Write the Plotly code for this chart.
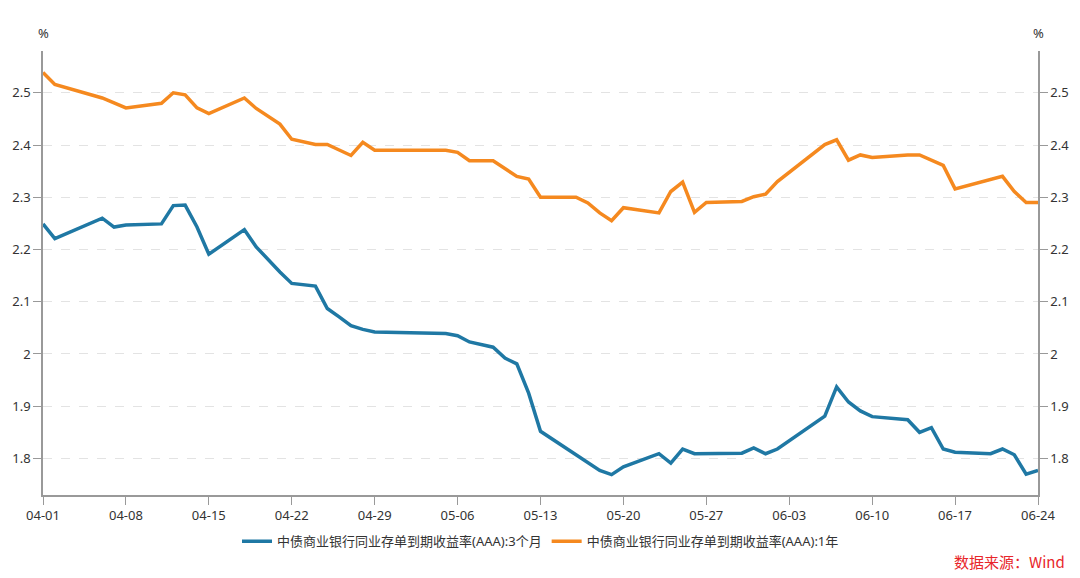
import plotly.graph_objects as go

# 中债商业银行同业存单到期收益率(AAA)

datas_3m = ["04-01", "04-02", "04-06", "04-07", "04-08", "04-11", "04-12", "04-13", "04-14", "04-15",
            "04-18", "04-19", "04-21", "04-22", "04-24", "04-25", "04-26", "04-27", "04-28", "04-29",
            "05-05", "05-06", "05-07", "05-09", "05-10", "05-11", "05-12", "05-13", "05-18", "05-19",
            "05-20", "05-23", "05-24", "05-25", "05-26", "05-30", "05-31", "06-01", "06-02", "06-06",
            "06-07", "06-08", "06-09", "06-10", "06-13", "06-14", "06-15", "06-16", "06-17", "06-20",
            "06-21", "06-22", "06-23", "06-24"]
taxa_3m = [2.249, 2.221, 2.260, 2.243, 2.247, 2.249, 2.284, 2.285, 2.243, 2.191,
           2.238, 2.205, 2.157, 2.135, 2.130, 2.087, 2.071, 2.054, 2.047, 2.042,
           2.039, 2.035, 2.023, 2.013, 1.992, 1.981, 1.925, 1.852, 1.777, 1.769,
           1.784, 1.809, 1.791, 1.818, 1.809, 1.810, 1.820, 1.809, 1.818, 1.881,
           1.937, 1.908, 1.891, 1.880, 1.874, 1.850, 1.859, 1.818, 1.812, 1.809,
           1.818, 1.807, 1.770, 1.777]

datas_1a = ["04-01", "04-02", "04-06", "04-08", "04-11", "04-12", "04-13", "04-14", "04-15", "04-18",
            "04-19", "04-21", "04-22", "04-24", "04-25", "04-27", "04-28", "04-29", "05-05", "05-06",
            "05-07", "05-09", "05-11", "05-12", "05-13", "05-16", "05-17", "05-18", "05-19", "05-20",
            "05-23", "05-24", "05-25", "05-26", "05-27", "05-30", "05-31", "06-01", "06-02", "06-06",
            "06-07", "06-08", "06-09", "06-10", "06-13", "06-14", "06-16", "06-17", "06-21", "06-22",
            "06-23", "06-24"]
taxa_1a = [2.539, 2.516, 2.490, 2.471, 2.480, 2.500, 2.496, 2.471, 2.460, 2.490,
           2.470, 2.440, 2.411, 2.401, 2.401, 2.380, 2.405, 2.390, 2.390, 2.386,
           2.370, 2.370, 2.340, 2.335, 2.300, 2.300, 2.289, 2.270, 2.255, 2.280,
           2.270, 2.311, 2.329, 2.271, 2.290, 2.292, 2.301, 2.306, 2.330, 2.401,
           2.410, 2.371, 2.381, 2.376, 2.381, 2.381, 2.361, 2.316, 2.340, 2.311,
           2.290, 2.290]

nomes = ["中债商业银行同业存单到期收益率(AAA):3个月", "中债商业银行同业存单到期收益率(AAA):1年"]
ano = "2024-"

fig = go.Figure()
fig.add_trace(go.Scatter(x=[ano + d for d in datas_3m], y=taxa_3m, name=nomes[0], mode="lines",
                         line=dict(color="#1f78a4", width=3.5)))
fig.add_trace(go.Scatter(x=[ano + d for d in datas_1a], y=taxa_1a, name=nomes[1], mode="lines",
                         line=dict(color="#f5891f", width=3.5), yaxis="y2"))

fonte = dict(family="Noto Sans, Noto Sans CJK SC", size=13, color="#333333")
eixo_y = dict(range=[1.73, 2.58], tickvals=[1.8, 1.9, 2.0, 2.1, 2.2, 2.3, 2.4, 2.5],
              ticktext=["1.8", "1.9", "2", "2.1", "2.2", "2.3", "2.4", "2.5"],
              showline=True, linecolor="#999999", linewidth=1.5, ticks="outside", ticklen=8,
              tickcolor="#999999", zeroline=False, tickfont=fonte)

fig.update_layout(
    width=1080, height=578,
    margin=dict(l=43, r=42, t=51, b=83),
    plot_bgcolor="white", paper_bgcolor="white",
    font=fonte,
    xaxis=dict(range=["2024-04-01", "2024-06-24"], tick0="2024-04-01", dtick=7 * 86400000,
               tickformat="%m-%d", showline=True, linecolor="#999999", linewidth=1.5,
               ticks="outside", ticklen=8, tickcolor="#999999", showgrid=False, tickfont=fonte),
    yaxis=dict(**eixo_y, showgrid=True, gridcolor="#e3e3e3", griddash="dash"),
    yaxis2=dict(**eixo_y, overlaying="y", side="right", showgrid=False),
    legend=dict(orientation="h", x=0.5, xanchor="center", y=-0.104, yanchor="middle",
                font=fonte, itemwidth=30),
    annotations=[
        dict(text="%", xref="paper", yref="paper", x=0, y=1.04, showarrow=False,
             xanchor="center", yanchor="middle", font=fonte),
        dict(text="%", xref="paper", yref="paper", x=1, y=1.04, showarrow=False,
             xanchor="center", yanchor="middle", font=fonte),
        dict(text="数据来源：Wind", xref="paper", yref="paper", x=1.029, y=-0.149, showarrow=False,
             xanchor="right", yanchor="middle",
             font=dict(family="Noto Sans CJK SC", size=15, color="#e8262a")),
    ],
)

# tira a margem padrão do body para a figura ocupar a janela inteira
fig.write_html("out.html", config={"displayModeBar": False},
               post_script="document.body.style.margin='0';")
